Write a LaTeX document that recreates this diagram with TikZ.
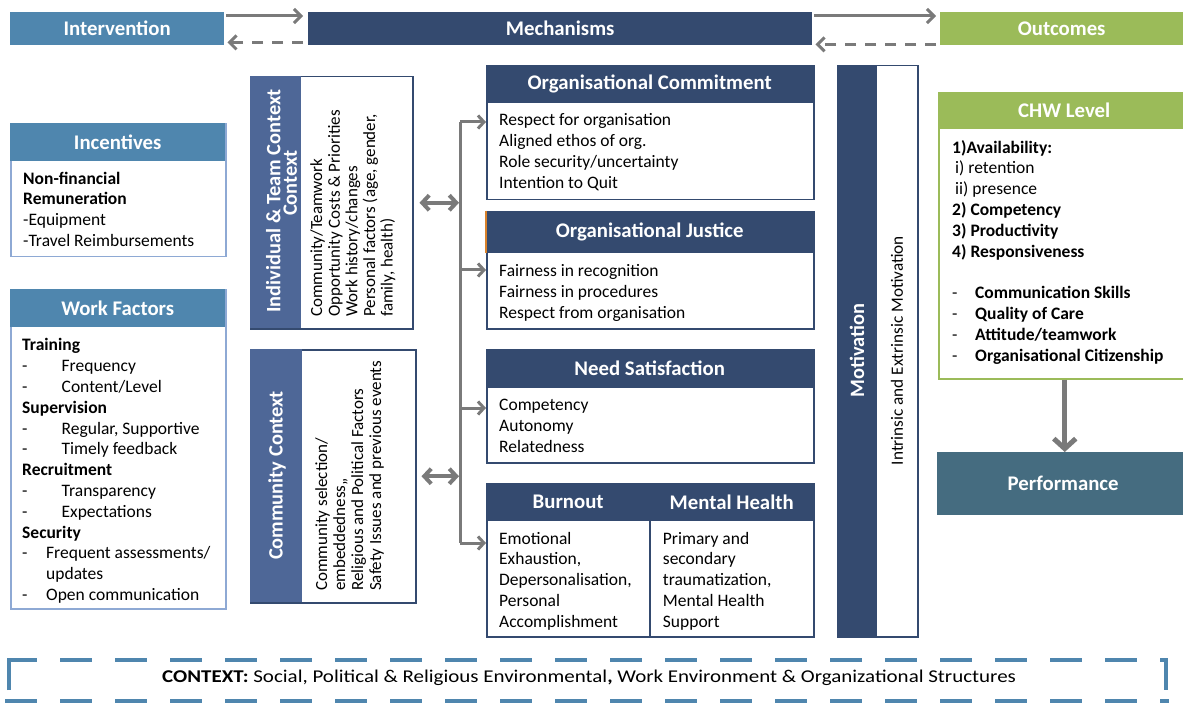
\documentclass[tikz,border=0pt]{standalone}
\usepackage{fontspec}
\setmainfont{Carlito}
\usetikzlibrary{arrows.meta}
\definecolor{ivblue}{HTML}{4F86AE}
\definecolor{navy}{HTML}{344A6F}
\definecolor{ctxblue}{HTML}{4E6797}
\definecolor{ogreen}{HTML}{9BBB59}
\definecolor{perfcol}{HTML}{456C80}
\definecolor{lborder}{HTML}{8EA9D4}
\definecolor{agray}{HTML}{7A7A7A}
\definecolor{ojorange}{HTML}{D9822B}
\newcommand\fsz[2]{\fontsize{#1}{#2}\selectfont}
\begin{document}
\begin{tikzpicture}[x=1pt,y=-1pt,
  hdr/.style={anchor=north west, inner sep=0pt, text=white, font=\fsz{20.8}{24}\bfseries},
  boxframe/.style={anchor=north west, inner sep=0pt, fill=white, line width=1.5pt},
  strip/.style={anchor=north west, inner sep=0pt},
  body/.style={anchor=north west, inner sep=0pt, align=left, font=\fsz{17.5}{20.8}},
  rbody/.style={anchor=north west, inner sep=0pt, align=left, rotate=90, font=\fsz{17}{17.6}},
  rhdr/.style={inner sep=0pt, align=center, rotate=90, text=white, font=\fsz{20.4}{16.5}\bfseries},
  garrow/.style={draw=agray, line width=3pt, -{Straight Barb[length=7pt,width=14pt]}},
  spine/.style={draw=agray, line width=3pt},
  branch/.style={draw=agray, line width=3pt, -{Straight Barb[length=6pt,width=13pt]}},
  dbl/.style={draw=agray, line width=4pt, {Straight Barb[length=7pt,width=15pt]}-{Straight Barb[length=7pt,width=15pt]}},
  bigarrow/.style={draw=agray, line width=5pt, -{Straight Barb[length=10pt,width=22pt]}},
  ctxdash/.style={draw=ivblue, line width=4.5pt}
]
\useasboundingbox (0,0) rectangle (1183,703);

% top bars
\node[hdr, fill=ivblue, minimum width=214pt, minimum height=33pt] (interv) at (10,12) {Intervention};
\node[hdr, fill=navy, minimum width=504pt, minimum height=33pt] (mech) at (308,12) {Mechanisms};
\node[hdr, fill=ogreen, minimum width=243pt, minimum height=33pt] (outc) at (940,12) {Outcomes};
\draw[garrow] ([xshift=2pt,yshift=-4pt]interv.north east) -- ([xshift=-5pt,yshift=-4pt]mech.north west);
\draw[garrow, dash pattern=on 11pt off 9pt] ([xshift=-5pt,yshift=3pt]mech.south west) -- ([xshift=3pt,yshift=3pt]interv.south east);
\draw[garrow] ([xshift=2pt,yshift=-4pt]mech.north east) -- ([xshift=-4pt,yshift=-4pt]outc.north west);
\draw[garrow, dash pattern=on 11pt off 9pt] ([xshift=-4pt,yshift=1pt]outc.south west) -- ([xshift=3pt,yshift=1pt]mech.south east);

% incentives
\node[boxframe, draw=lborder, minimum width=215pt, minimum height=133pt] (incbox) at (10,123) {};
\node[hdr, fill=ivblue, minimum width=215pt, minimum height=38pt] (inchdr) at (10,123) {Incentives};
\node[body] (incbody) at (23,169.4) {\strut\textbf{Non-financial}\\ \textbf{Remuneration}\\ -Equipment\\ -Travel Reimbursements};

% work factors
\node[boxframe, draw=lborder, minimum width=215pt, minimum height=319pt] (wfbox) at (10,289) {};
\node[hdr, fill=ivblue, minimum width=215pt, minimum height=38pt] (wfhdr) at (10,289) {Work Factors};
\node[body] (wfbody) at (22,336.1) {\strut\textbf{Training}\\
\makebox[39.5pt][l]{-}Frequency\\
\makebox[39.5pt][l]{-}Content/Level\\
\textbf{Supervision}\\
\makebox[39.5pt][l]{-}Regular, Supportive\\
\makebox[39.5pt][l]{-}Timely feedback\\
\textbf{Recruitment}\\
\makebox[39.5pt][l]{-}Transparency\\
\makebox[39.5pt][l]{-}Expectations\\
\textbf{Security}\\
\makebox[24pt][l]{-}Frequent assessments/\\
\hspace*{24pt}updates\\
\makebox[24pt][l]{-}Open communication};

% individual & team context
\node[boxframe, draw=navy, minimum width=162pt, minimum height=252pt] (ictbox) at (250,76) {};
\node[strip, fill=ctxblue, minimum width=51pt, minimum height=252pt] (icthdr) at (250,76) {};
\node[rhdr] (icttext) at (281.5,201) {Individual \& Team Context\\ \hspace*{36pt}Context};
\node[rbody] (ictbody) at (309.7,317) {\strut Community/Teamwork\\ Opportunity Costs \& Priorities\\ Work history/changes\\ Personal factors (age, gender,\\ family, health)};

% community context
\node[boxframe, draw=navy, minimum width=165pt, minimum height=253pt] (ccbox) at (250,349) {};
\node[strip, fill=ctxblue, minimum width=52pt, minimum height=253pt] (cchdr) at (250,349) {};
\node[rhdr] (cctext) at (277,475.5) {Community Context};
\node[rbody, font=\fsz{17}{18}] (ccbody) at (314.4,591) {\strut Community selection/\\ embeddedness,,\\ Religious and Political Factors\\ Safety Issues and previous events};

% organisational commitment
\node[boxframe, draw=navy, minimum width=327pt, minimum height=134pt] (ocbox) at (486,65) {};
\node[hdr, fill=navy, minimum width=327pt, minimum height=38pt] (ochdr) at (486,65) {Organisational Commitment};
\node[body] (ocbody) at (499,111.1) {\strut Respect for organisation\\ Aligned ethos of org.\\ Role security/uncertainty\\ Intention to Quit};

% organisational justice
\node[boxframe, draw=navy, minimum width=327pt, minimum height=117pt] (ojbox) at (486,211) {};
\node[hdr, fill=navy, minimum width=327pt, minimum height=42pt] (ojhdr) at (486,211) {Organisational Justice};
\draw[ojorange, line width=1.5pt] (ojhdr.north west) -- (ojhdr.south west);
\node[body] (ojbody) at (499,262.1) {\strut Fairness in recognition\\ Fairness in procedures\\ Respect from organisation};

% need satisfaction
\node[boxframe, draw=navy, minimum width=327pt, minimum height=113pt] (nsbox) at (486,349) {};
\node[hdr, fill=navy, minimum width=327pt, minimum height=39pt] (nshdr) at (486,349) {Need Satisfaction};
\node[body] (nsbody) at (499,396.1) {\strut Competency\\ Autonomy\\ Relatedness};

% burnout / mental health
\node[boxframe, draw=navy, minimum width=327pt, minimum height=153pt] (bmbox) at (486,483) {};
\node[hdr, fill=navy, minimum width=164pt, minimum height=38pt] (bohdr) at (486,483) {Burnout};
\node[hdr, fill=navy, minimum width=163pt, minimum height=38pt] (mhhdr) at (650,483) {Mental Health};
\draw[navy, line width=1.5pt] (mhhdr.north west) -- (mhhdr.north west |- bmbox.south);
\node[body] (bobody) at (499,529.4) {\strut Emotional\\ Exhaustion,\\ Depersonalisation,\\ Personal\\ Accomplishment};
\node[body] (mhbody) at (662.7,529.4) {\strut Primary and\\ secondary\\ traumatization,\\ Mental Health\\ Support};

% spine and connectors
\coordinate (sp1) at (460,122);
\coordinate (sp2) at (460,270);
\coordinate (sp3) at (460,408);
\coordinate (sp4) at (460,543);
\draw[spine] (sp1) -- (sp4);
\draw[branch] (sp1) -- (sp1 -| ocbox.west);
\draw[branch] (sp2) -- (sp2 -| ojbox.west);
\draw[branch] (sp3) -- (sp3 -| nsbox.west);
\draw[branch] (sp4) -- (sp4 -| bmbox.west);
\draw[dbl] ([xshift=6pt]ictbox.east) -- ([xshift=-1pt]ictbox.east -| sp1);
\draw[dbl] ([xshift=5pt]ccbox.east) -- ([xshift=-1pt]ccbox.east -| sp1);

% motivation
\node[boxframe, draw=navy, minimum width=80pt, minimum height=571pt] (motbox) at (837,65) {};
\node[strip, fill=navy, minimum width=40pt, minimum height=571pt] (mothdr) at (837,65) {};
\node[rhdr] (mottext) at (857,350.5) {Motivation};
\node[rotate=90, inner sep=0pt, font=\fsz{17.2}{20}] (motsub) at (897,350.5) {Intrinsic and Extrinsic Motivation};

% CHW level
\node[boxframe, draw=ogreen, minimum width=252pt, minimum height=286pt] (chwbox) at (938,92) {};
\node[hdr, fill=ogreen, minimum width=252pt, minimum height=37pt] (chwhdr) at (938,92) {CHW Level};
\node[body] (chwbody) at (952,138.4) {\strut\textbf{1)Availability:}\\
\hspace*{3pt}i) retention\\
\hspace*{3pt}ii) presence\\
\textbf{2) Competency}\\
\textbf{3) Productivity}\\
\textbf{4) Responsiveness}\\
\mbox{}\\
\makebox[23pt][l]{-}\textbf{Communication Skills}\\
\makebox[23pt][l]{-}\textbf{Quality of Care}\\
\makebox[23pt][l]{-}\textbf{Attitude/teamwork}\\
\makebox[23pt][l]{-}\textbf{Organisational Citizenship}};

% performance
\node[hdr, fill=perfcol, minimum width=252pt, minimum height=63pt] (perf) at (937,452) {Performance};
\draw[bigarrow] (chwbox.south) -- (chwbox.south |- perf.north);

% context dashed frame
\draw[ctxdash] (9,690) -- (9,660) -- (37,660);
\foreach \k in {0,...,19} \draw[ctxdash] ({60+55*\k},660) -- ++(32,0);
\draw[ctxdash] (1160,660) -- (1166,660) -- (1166,690);
\foreach \k in {0,...,20} \draw[ctxdash] ({5+55*\k},701) -- ++(32,0);
\draw[ctxdash] (1160,701) -- (1169,701);
\node[anchor=base west, inner sep=0pt, xscale=1.165, font=\fsz{18}{20}] (ctxtext) at (162,682.7) {\textbf{CONTEXT:} Social, Political \& Religious Environmental\textbf{,} Work Environment \& Organizational Structures};
\end{tikzpicture}
\end{document}
